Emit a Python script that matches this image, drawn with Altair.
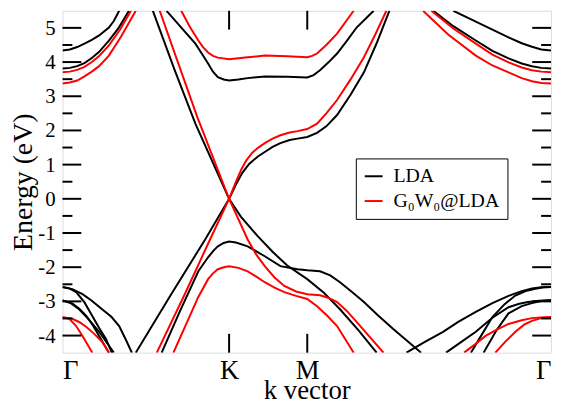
import altair as alt
import pandas as pd

# ---- band data: (k along path Γ-K-M-Γ normalised to 0..1, energy in eV) ----
# LDA (black)
lda_c_gamma_l1 = [(0, 4.34), (0.015, 4.37), (0.03, 4.44), (0.045, 4.54), (0.06, 4.65), (0.075, 4.78),
                  (0.095, 5.01), (0.105, 5.2), (0.116, 5.5)]
lda_c_gamma_l2 = [(0, 3.81), (0.015, 3.83), (0.03, 3.88), (0.045, 3.97), (0.06, 4.12), (0.075, 4.3),
                  (0.095, 4.63), (0.115, 5.0), (0.136, 5.5)]
lda_pistar = [(0.185, 5.5), (0.230, 3.75), (0.272, 2.2), (0.341, 0.0), (0.355, 0.42), (0.368, 0.76),
              (0.382, 1.02), (0.40, 1.24), (0.414, 1.37), (0.43, 1.52), (0.446, 1.63), (0.465, 1.72),
              (0.481, 1.76), (0.501, 1.81), (0.521, 1.93), (0.54, 2.12), (0.562, 2.45), (0.59, 3.05),
              (0.617, 3.70), (0.643, 4.55), (0.669, 5.5)]
lda_c_k = [(0.213, 5.5), (0.272, 4.54), (0.285, 4.25), (0.298, 3.96), (0.308, 3.72), (0.318, 3.56), (0.33, 3.49),
           (0.341, 3.46), (0.36, 3.49), (0.379, 3.53), (0.414, 3.58), (0.460, 3.57), (0.501, 3.55), (0.514, 3.62),
           (0.527, 3.76), (0.545, 4.0), (0.562, 4.25), (0.582, 4.62), (0.602, 5.01), (0.637, 5.5)]
lda_c_gamma_r1 = [(0.80, 5.5), (0.846, 5.18), (0.88, 4.95), (0.913, 4.72), (0.94, 4.55), (0.961, 4.45),
                  (0.98, 4.37), (1.0, 4.34)]
lda_c_gamma_r2 = [(0.759, 5.5), (0.80, 5.05), (0.846, 4.63), (0.88, 4.33), (0.913, 4.11), (0.94, 3.96),
                  (0.961, 3.88), (0.98, 3.83), (1.0, 3.81)]
lda_v_gamma_a = [(0, -2.58), (0.02, -2.64), (0.041, -2.79), (0.06, -2.98), (0.081, -3.23), (0.10, -3.45),
                 (0.116, -3.72), (0.129, -4.1), (0.142, -4.5)]
lda_v_gamma_b = [(0, -2.58), (0.014, -2.62), (0.028, -2.73), (0.045, -3.03), (0.061, -3.43), (0.075, -3.78),
                 (0.089, -4.10), (0.101, -4.5)]
lda_v_gamma_c = [(0, -2.97), (0.02, -3.06), (0.035, -3.22), (0.049, -3.43), (0.062, -3.7), (0.075, -4.01),
                 (0.095, -4.5)]
lda_v_gamma_d = [(0, -2.97), (0.017, -3.05), (0.034, -3.23), (0.055, -3.55), (0.075, -3.89), (0.105, -4.5)]
lda_pi = [(0.150, -4.5), (0.22, -2.85), (0.292, -1.19), (0.341, 0.0), (0.365, -0.52), (0.400, -1.10),
          (0.430, -1.55), (0.460, -1.95), (0.501, -2.35), (0.535, -2.75), (0.568, -3.23), (0.606, -3.85),
          (0.643, -4.5)]
lda_sigma = [(0.203, -4.5), (0.24, -3.3), (0.278, -2.12), (0.298, -1.71), (0.31, -1.5), (0.318, -1.39),
             (0.33, -1.29), (0.341, -1.25), (0.355, -1.28), (0.379, -1.39), (0.414, -1.68), (0.446, -1.97),
             (0.481, -2.06), (0.501, -2.09), (0.527, -2.12), (0.548, -2.24), (0.568, -2.44), (0.592, -2.72),
             (0.617, -3.02), (0.645, -3.4), (0.677, -3.81), (0.734, -4.5)]
lda_v_gamma_r_a = [(0.704, -4.5), (0.74, -4.2), (0.779, -3.89), (0.81, -3.6), (0.846, -3.31), (0.88, -3.05),
                   (0.913, -2.84), (0.94, -2.7), (0.961, -2.62), (0.98, -2.59), (1.0, -2.58)]
lda_v_gamma_r_b = [(0.785, -4.5), (0.815, -4.2), (0.846, -3.89), (0.88, -3.48), (0.913, -3.17), (0.935, -3.07),
                   (0.953, -3.02), (0.975, -2.98), (1.0, -2.97)]
lda_v_gamma_r_c = [(0.836, -4.5), (0.858, -3.98), (0.880, -3.46), (0.905, -3.08), (0.927, -2.83), (0.948, -2.7),
                   (0.968, -2.63), (0.985, -2.59), (1.0, -2.58)]
lda_v_gamma_r_d = [(0.862, -4.5), (0.888, -3.85), (0.913, -3.35), (0.94, -3.14), (0.961, -3.05), (0.98, -2.99),
                   (1.0, -2.97)]

# G0W0@LDA (red)
gw_c_gamma_l1 = [(0, 3.70), (0.015, 3.72), (0.03, 3.77), (0.045, 3.86), (0.06, 4.0), (0.075, 4.18),
                 (0.095, 4.49), (0.118, 4.95), (0.140, 5.5)]
gw_c_gamma_l2 = [(0, 3.37), (0.015, 3.40), (0.03, 3.46), (0.045, 3.58), (0.06, 3.72), (0.075, 3.88),
                 (0.095, 4.19), (0.12, 4.75), (0.150, 5.5)]
gw_pistar = [(0.199, 5.5), (0.237, 3.96), (0.276, 2.39), (0.341, 0.0), (0.355, 0.50), (0.366, 0.86),
             (0.376, 1.12), (0.388, 1.34), (0.40, 1.49), (0.414, 1.63), (0.43, 1.76), (0.446, 1.86),
             (0.465, 1.94), (0.481, 1.98), (0.501, 2.04), (0.521, 2.20), (0.54, 2.50), (0.562, 2.89),
             (0.59, 3.50), (0.617, 4.14), (0.640, 4.80), (0.663, 5.5)]
gw_c_k = [(0.243, 5.5), (0.26, 5.05), (0.278, 4.63), (0.288, 4.43), (0.298, 4.28), (0.308, 4.18), (0.318, 4.13),
          (0.341, 4.08), (0.379, 4.14), (0.414, 4.19), (0.460, 4.17), (0.501, 4.14), (0.511, 4.18),
          (0.521, 4.25), (0.54, 4.5), (0.562, 4.83), (0.596, 5.5)]
gw_c_gamma_r1 = [(0.755, 5.5), (0.80, 4.98), (0.846, 4.54), (0.88, 4.22), (0.913, 3.99), (0.94, 3.84),
                 (0.961, 3.76), (0.98, 3.72), (1.0, 3.70)]
gw_c_gamma_r2 = [(0.738, 5.5), (0.79, 4.8), (0.846, 4.19), (0.88, 3.90), (0.913, 3.70), (0.94, 3.53),
                 (0.961, 3.44), (0.98, 3.39), (1.0, 3.37)]
gw_v_gamma_a = [(0, -3.46), (0.02, -3.51), (0.035, -3.61), (0.049, -3.75), (0.065, -3.95), (0.081, -4.18),
                (0.095, -4.5)]
gw_v_gamma_b = [(0, -3.46), (0.014, -3.51), (0.028, -3.72), (0.041, -4.01), (0.061, -4.5)]
gw_pi = [(0.193, -4.5), (0.25, -2.8), (0.302, -1.19), (0.341, 0.0), (0.379, -1.19), (0.396, -1.62),
         (0.414, -1.97), (0.434, -2.3), (0.454, -2.55), (0.478, -2.71), (0.501, -2.79), (0.527, -2.82),
         (0.545, -2.9), (0.562, -3.02), (0.582, -3.28), (0.602, -3.60), (0.657, -4.5)]
gw_sigma = [(0.227, -4.5), (0.252, -3.7), (0.278, -2.87), (0.298, -2.35), (0.308, -2.18), (0.318, -2.06),
            (0.33, -2.0), (0.341, -1.97), (0.36, -2.02), (0.379, -2.12), (0.396, -2.27), (0.414, -2.44),
            (0.434, -2.6), (0.454, -2.73), (0.478, -2.84), (0.501, -2.93), (0.521, -3.14), (0.542, -3.42),
            (0.562, -3.72), (0.596, -4.5)]
gw_v_gamma_r_a = [(0.822, -4.5), (0.845, -4.25), (0.866, -4.01), (0.89, -3.82), (0.913, -3.66), (0.94, -3.55),
                  (0.961, -3.49), (0.98, -3.47), (1.0, -3.46)]
gw_v_gamma_r_b = [(0.886, -4.5), (0.907, -4.17), (0.927, -3.89), (0.945, -3.68), (0.961, -3.57), (0.98, -3.49),
                  (1.0, -3.46)]

lda_bands = [lda_c_gamma_l1, lda_c_gamma_l2, lda_pistar, lda_c_k, lda_c_gamma_r1, lda_c_gamma_r2,
             lda_v_gamma_a, lda_v_gamma_b, lda_v_gamma_c, lda_v_gamma_d, lda_pi, lda_sigma,
             lda_v_gamma_r_a, lda_v_gamma_r_b, lda_v_gamma_r_c, lda_v_gamma_r_d]
gw_bands = [gw_c_gamma_l1, gw_c_gamma_l2, gw_pistar, gw_c_k, gw_c_gamma_r1, gw_c_gamma_r2,
            gw_v_gamma_a, gw_v_gamma_b, gw_pi, gw_sigma, gw_v_gamma_r_a, gw_v_gamma_r_b]

series_names = ["LDA", "G\u2080W\u2080@LDA"]
series_colors = ["#000000", "#ff0000"]

k_ticks = [0.0, 0.341, 0.501, 1.0]
k_labels = ["\u0393", "K", "M", "\u0393"]
y_major = [-4, -3, -2, -1, 0, 1, 2, 3, 4, 5]
y_minor = [-3.5, -2.5, -1.5, -0.5, 0.5, 1.5, 2.5, 3.5, 4.5]
k_inner = [0.341, 0.501]

rows = []
for name, bands in ((series_names[0], lda_bands), (series_names[1], gw_bands)):
    for i, b in enumerate(bands):
        for j, (k, e) in enumerate(b):
            rows.append({"series": name, "band": f"{name}-{i}", "order": j, "k": k, "E": e})
df = pd.DataFrame(rows)

W, H = 493, 345
FONT = "Liberation Serif"
xscale = alt.Scale(domain=[0, 1], nice=False, zero=False)
yscale = alt.Scale(domain=[-4.5, 5.5], nice=False, zero=False)

label_expr = " : ".join(
    [f"datum.value == {v} ? '{l}'" for v, l in zip(k_ticks, k_labels)]) + " : ''"

xaxis = alt.Axis(values=k_ticks, labelExpr=label_expr, title="k vector", labelOverlap=False,
                 ticks=False, domain=False, grid=False, labelFont=FONT, labelFontSize=27,
                 labelColor="black", labelPadding=5, titleFont=FONT, titleFontSize=27,
                 titleFontWeight="normal", titleColor="black", titlePadding=-6)
yaxis = alt.Axis(values=y_major, title="Energy (eV)", ticks=False, domain=False, grid=False,
                 labels=False, titleFont=FONT, titleFontSize=28, titleFontWeight="normal",
                 titleColor="black", titlePadding=25)

color = alt.Color("series:N",
                  scale=alt.Scale(domain=series_names, range=series_colors),
                  legend=alt.Legend(title=None, orient="none", legendX=296, legendY=149,
                                    symbolType="stroke", symbolSize=324, symbolStrokeWidth=2,
                                    labelFont=FONT, labelFontSize=20, labelColor="black",
                                    strokeColor="black", padding=8, rowPadding=5,
                                    fillColor="white", labelOffset=10, labelLimit=300))

def band_layer(name, with_axes):
    if with_axes:
        x = alt.X("k:Q", scale=xscale, axis=xaxis)
        y = alt.Y("E:Q", scale=yscale, axis=yaxis)
    else:
        x = alt.X("k:Q", scale=xscale)
        y = alt.Y("E:Q", scale=yscale)
    return alt.Chart(df[df.series == name]).mark_line(strokeWidth=2, clip=True, interpolate="linear").encode(
        x=x, y=y, color=color, detail="band:N", order="order:Q")

ymaj_df = pd.DataFrame({"v": y_major, "lab": [str(v) for v in y_major]})
ymin_df = pd.DataFrame({"v": y_minor})
kin_df = pd.DataFrame({"v": k_inner})

def yrule(d, x0, x1):
    return alt.Chart(d).mark_rule(color="black", strokeWidth=2).encode(
        y=alt.Y("v:Q", scale=yscale), x=alt.value(x0), x2=alt.value(x1))

def xrule(d, y0, y1):
    return alt.Chart(d).mark_rule(color="black", strokeWidth=2).encode(
        x=alt.X("v:Q", scale=xscale), y=alt.value(y0), y2=alt.value(y1))

ylabels = alt.Chart(ymaj_df).mark_text(align="right", baseline="middle", font=FONT, fontSize=21,
                                        color="black", dy=1).encode(
    y=alt.Y("v:Q", scale=yscale), x=alt.value(-7), text="lab:N")

chart = alt.layer(
    band_layer(series_names[0], True),
    band_layer(series_names[1], False),
    yrule(ymaj_df, 0, 19), yrule(ymaj_df, W - 19, W),
    yrule(ymin_df, 0, 10), yrule(ymin_df, W - 10, W),
    xrule(kin_df, 0, 19), xrule(kin_df, H - 19, H),
    ylabels,
).properties(
    width=W, height=H,
    autosize=alt.AutoSizeParams(type="none"),
    padding={"left": 55, "top": 1, "right": 4, "bottom": 50},
).configure_view(stroke="black", strokeWidth=2).configure(background="white")

chart.save("out.html", embed_options={"renderer": "svg", "actions": False})
